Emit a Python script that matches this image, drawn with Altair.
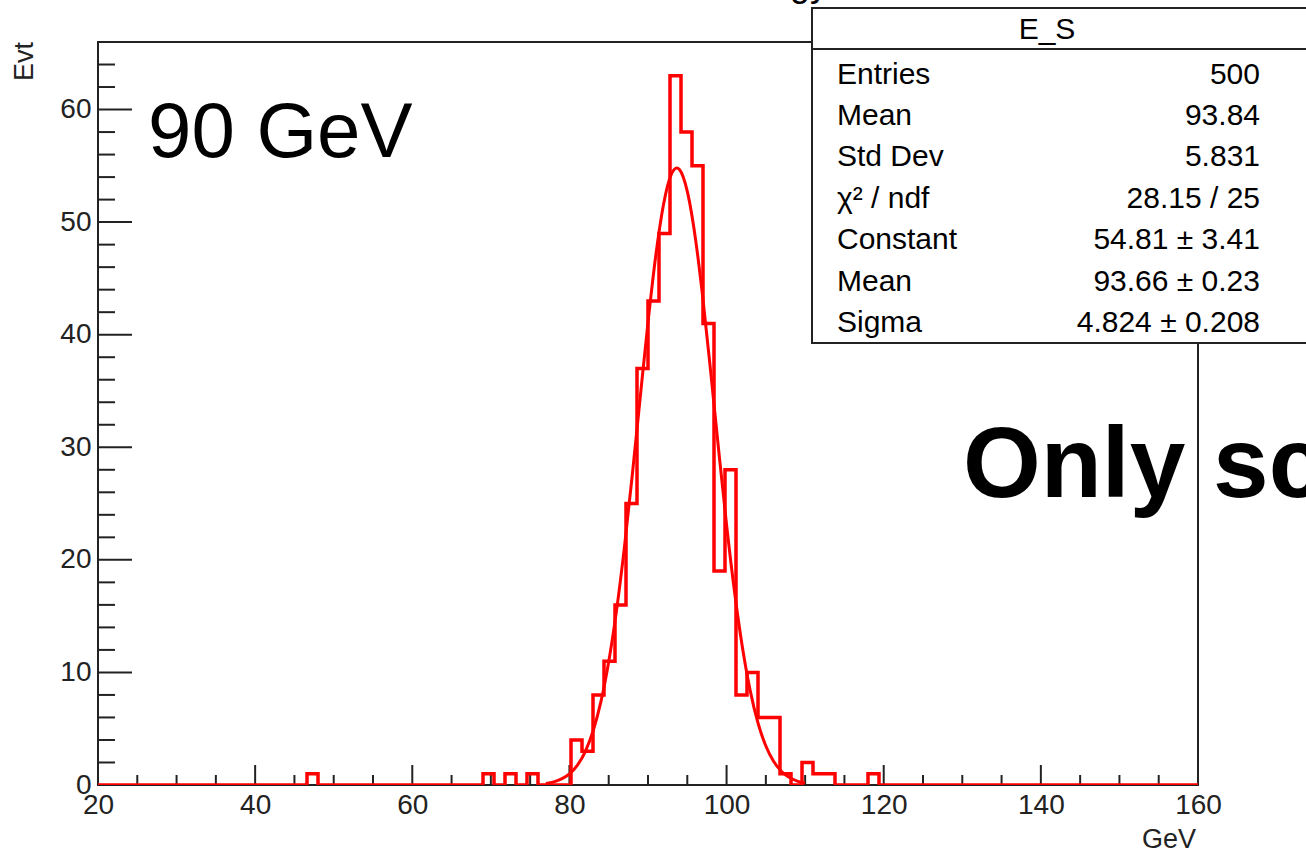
import altair as alt
import pandas as pd

# ---------------- data ----------------
# histogram: 100 bins of width 1.4 GeV from 20 to 160 (ROOT style)
x_min, x_max, n_bins = 20.0, 160.0, 100
bin_index = [19, 35, 37, 39, 43, 44, 45, 46, 47, 48, 49, 50, 51, 52, 53, 54,
             55, 56, 57, 58, 59, 60, 61, 62, 64, 65, 66, 70]
bin_count = [1, 1, 1, 1, 4, 3, 8, 11, 16, 25, 37, 43, 49, 63, 58, 55,
             41, 19, 28, 8, 10, 6, 6, 1, 2, 1, 1, 1]

# gaussian fit curve
fit_x = [77, 78, 79, 80, 81, 82, 83, 84, 85, 86, 87, 88, 89, 90, 91, 92, 93,
         93.66, 94, 95, 96, 97, 98, 99, 100, 101, 102, 103, 104, 105, 106,
         107, 108, 109, 110]
fit_y = [0.14, 0.28, 0.54, 0.99, 1.75, 2.95, 4.77, 7.38, 10.95, 15.53, 21.13,
         27.54, 34.37, 41.10, 47.08, 51.66, 54.30, 54.81, 54.67, 52.73, 48.73,
         43.12, 36.56, 29.70, 23.11, 17.23, 12.30, 8.41, 5.51, 3.46, 2.08,
         1.20, 0.66, 0.35, 0.18]

x_labels = [20, 40, 60, 80, 100, 120, 140, 160]
y_labels = [0, 10, 20, 30, 40, 50, 60]
x_minor = [v for v in range(25, 160, 5) if v % 20 != 0]
y_minor = [v for v in range(2, 67, 2) if v % 10 != 0]

stat_title = "E_S"
stat_labels = ["Entries", "Mean", "Std Dev", "χ² / ndf", "Constant", "Mean", "Sigma"]
stat_values = ["500", "93.84", "5.831", "28.15 / 25", "54.81 ± 3.41",
               "93.66 ± 0.23", "4.824 ± 0.208"]

# ---------------- tables ----------------
width_bin = (x_max - x_min) / n_bins
counts = [0] * n_bins
for i, c in zip(bin_index, bin_count):
    counts[i] = c
edges = [x_min + k * width_bin for k in range(n_bins + 1)]
hist_df = pd.DataFrame({"x": edges, "y": counts + [counts[-1]]})
fit_df = pd.DataFrame({"x": fit_x, "y": fit_y})
xmaj_df = pd.DataFrame({"x": x_labels})
xmin_df = pd.DataFrame({"x": x_minor})
ymaj_df = pd.DataFrame({"y": y_labels})
ymin_df = pd.DataFrame({"y": y_minor})

FONT = "Liberation Sans"
AX = "#222222"
W, H = 1100, 743

xscale = alt.Scale(domain=[x_min, x_max], nice=False, zero=False)
yscale = alt.Scale(domain=[0, 66], nice=False, zero=True)
xaxis = alt.Axis(values=x_labels, format="d", ticks=False, domain=False, grid=False,
                 labelFont=FONT, labelFontSize=28, labelColor=AX, labelPadding=6,
                 labelFlush=False, labelOverlap=False, title=None)
yaxis = alt.Axis(values=y_labels, format="d", ticks=False, domain=False, grid=False,
                 labelFont=FONT, labelFontSize=28, labelColor=AX, labelPadding=7,
                 labelFlush=False, labelOverlap=False, title=None)


def X(f="x"):
    return alt.X(f, type="quantitative", scale=xscale, axis=xaxis)


def Y(f="y"):
    return alt.Y(f, type="quantitative", scale=yscale, axis=yaxis)


hist = alt.Chart(hist_df).mark_line(
    interpolate="step-after", color="#ff0000", strokeWidth=3.5, clip=True
).encode(x=X(), y=Y())

fit = alt.Chart(fit_df).mark_line(
    interpolate="monotone", color="#ff0000", strokeWidth=3
).encode(x=X(), y=Y())

xmaj = alt.Chart(xmaj_df).mark_rule(color=AX, strokeWidth=2).encode(
    x=X(), y=alt.value(H), y2=alt.value(H - 20))
xmin = alt.Chart(xmin_df).mark_rule(color=AX, strokeWidth=2).encode(
    x=X(), y=alt.value(H), y2=alt.value(H - 10))
ymaj = alt.Chart(ymaj_df).mark_rule(color=AX, strokeWidth=2).encode(
    y=Y(), x=alt.value(0), x2=alt.value(34))
ymin = alt.Chart(ymin_df).mark_rule(color=AX, strokeWidth=2).encode(
    y=Y(), x=alt.value(0), x2=alt.value(17))

layers = [xmaj, xmin, ymaj, ymin, hist, fit]

# axis titles
layers.append(alt.Chart(pd.DataFrame({"t": ["Evt"]})).mark_text(
    font=FONT, fontSize=27, angle=270, align="right", baseline="alphabetic", color=AX
).encode(text="t:N", x=alt.value(-65), y=alt.value(0)))
layers.append(alt.Chart(pd.DataFrame({"t": ["GeV"]})).mark_text(
    font=FONT, fontSize=27, align="right", baseline="alphabetic", color=AX
).encode(text="t:N", x=alt.value(W - 2), y=alt.value(806)))

# annotations
layers.append(alt.Chart(pd.DataFrame({"t": ["90 GeV"]})).mark_text(
    font=FONT, fontSize=78, align="left", baseline="alphabetic", color="#000000"
).encode(text="t:N", x=alt.value(50), y=alt.value(115)))
layers.append(alt.Chart(pd.DataFrame({"t": ["Only sc"]})).mark_text(
    font=FONT, fontSize=100, fontWeight="bold", align="left", baseline="alphabetic",
    color="#000000"
).encode(text="t:N", x=alt.value(865), y=alt.value(455)))

# partially hidden histogram title at the very top
layers.append(alt.Chart(pd.DataFrame({"t": ["Energy"]})).mark_text(
    font=FONT, fontSize=36, align="right", baseline="alphabetic", color="#000000"
).encode(text="t:N", x=alt.value(730), y=alt.value(-46)))

# statistics box
box_l, box_r, box_t, box_b = 714, 1240, -34, 301
layers.append(alt.Chart(pd.DataFrame({"a": [0]})).mark_rect(
    fill="white", stroke=AX, strokeWidth=2
).encode(x=alt.value(box_l), x2=alt.value(box_r), y=alt.value(box_t), y2=alt.value(box_b)))
layers.append(alt.Chart(pd.DataFrame({"a": [0]})).mark_rule(
    color=AX, strokeWidth=2
).encode(x=alt.value(box_l), x2=alt.value(box_r), y=alt.value(7)))
layers.append(alt.Chart(pd.DataFrame({"t": [stat_title]})).mark_text(
    font=FONT, fontSize=30, align="center", baseline="alphabetic", color="#000000"
).encode(text="t:N", x=alt.value(949), y=alt.value(-3)))
for i, (lab, val) in enumerate(zip(stat_labels, stat_values)):
    yy = 41.5 + i * 41.4
    layers.append(alt.Chart(pd.DataFrame({"t": [lab]})).mark_text(
        font=FONT, fontSize=30, align="left", baseline="alphabetic", color="#000000"
    ).encode(text="t:N", x=alt.value(739), y=alt.value(yy)))
    layers.append(alt.Chart(pd.DataFrame({"t": [val]})).mark_text(
        font=FONT, fontSize=30, align="right", baseline="alphabetic", color="#000000"
    ).encode(text="t:N", x=alt.value(1162), y=alt.value(yy)))

chart = alt.layer(*layers).properties(
    width=W, height=H,
    autosize=alt.AutoSizeParams(type="none"),
    padding={"left": 98, "top": 42, "right": 108, "bottom": 69},
    background="white",
).configure_view(stroke=AX, strokeWidth=2)

chart.save("out.html", embed_options={"renderer": "svg", "actions": False})
